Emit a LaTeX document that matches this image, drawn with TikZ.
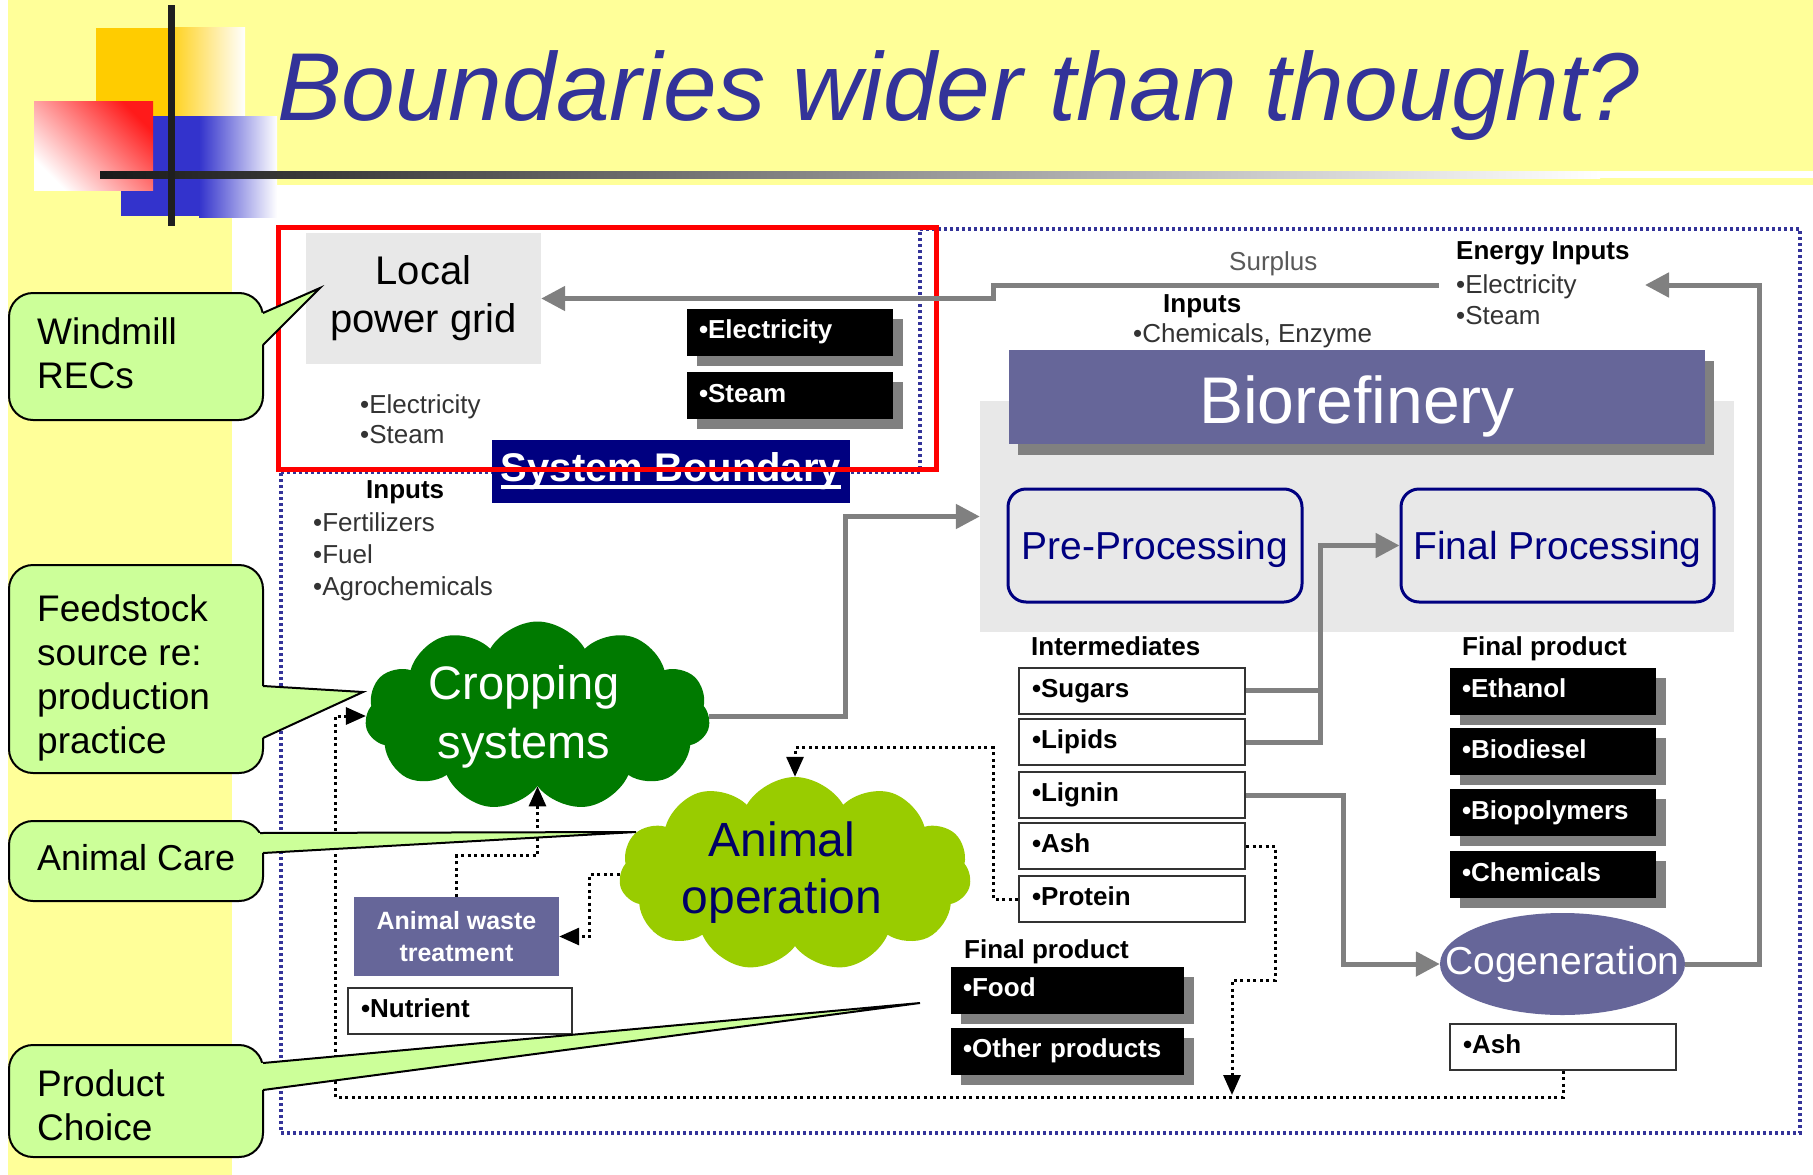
\documentclass[tikz,border=0pt]{standalone}
\usepackage{fontspec}
\setmainfont{Liberation Sans}
\usetikzlibrary{arrows.meta,shapes.symbols,shapes.geometric,shadows}

\definecolor{slideyellow}{HTML}{FFFF99}
\definecolor{titleblue}{HTML}{333399}
\definecolor{sqorange}{HTML}{FFCC00}
\definecolor{sqblue}{HTML}{3333CC}
\definecolor{sqred}{HTML}{FF1A1A}
\definecolor{flowgrey}{HTML}{808080}
\definecolor{panelgrey}{HTML}{E8E8E8}
\definecolor{refpurple}{HTML}{666699}
\definecolor{boxnavy}{HTML}{000080}
\definecolor{cropgreen}{HTML}{007A00}
\definecolor{animalgreen}{HTML}{99CC00}
\definecolor{calloutgreen}{HTML}{CCFF99}
\definecolor{textgrey}{HTML}{333333}

\newcommand{\ulthick}[1]{\leavevmode\setbox0=\hbox{#1}\rlap{\rule[-7pt]{\wd0}{3.5pt}}\copy0}

\tikzset{
  txt/.style={inner sep=0, text=textgrey, font=\fontsize{26}{31}\selectfont},
  boldtxt/.style={inner sep=0, font=\bfseries\fontsize{26}{31}\selectfont},
  blackbox/.style={fill=black, text=white, font=\bfseries\fontsize{26}{31}\selectfont,
    align=left, inner xsep=12, inner ysep=0, minimum height=47, text height=19, text depth=6,
    drop shadow={shadow xshift=10pt, shadow yshift=-10pt, fill=flowgrey, opacity=1}},
  whitebox/.style={draw=textgrey, line width=2, fill=white, font=\bfseries\fontsize{26}{31}\selectfont,
    align=left, inner xsep=13, inner ysep=0, minimum height=46, text height=19, text depth=6},
  procbox/.style={draw=boxnavy, line width=3, rounded corners=18, fill=panelgrey, text=boxnavy,
    font=\fontsize{39}{47}\selectfont, minimum height=113, text height=27.5, text depth=0},
  greyline/.style={draw=flowgrey, line width=5},
  greyarrow/.style={greyline, -{Triangle[length=24pt,width=24pt]}},
  dotline/.style={draw=black, line width=3, dash pattern=on 3pt off 3.5pt},
  dotarrow/.style={dotline, -{Triangle[length=20pt,width=17pt]}},
  boundary/.style={draw=titleblue, line width=3.5, dash pattern=on 3pt off 3pt},
  callout/.style={draw=black, line width=2, fill=calloutgreen},
  callouttxt/.style={inner sep=0, align=left, font=\fontsize{37}{44}\selectfont},
  puffs/.style={cloud, cloud puffs=11, cloud puff arc=120, inner sep=0},
}

\begin{document}
\begin{tikzpicture}[x=1pt, y=-1pt]
\useasboundingbox (0,0) rectangle (1813,1175);
% slide background
\fill[white] (0,0) rectangle (1813,1175);
\fill[slideyellow] (8,0) rectangle (1813,1175);
\fill[white] (232,185) rectangle (1813,1175);
% corner squares and rules
\fill[sqorange] (96,28) rectangle (175,116);
\shade[left color=sqorange!85!white, right color=white] (175,27) rectangle (245,116);
\fill[sqblue] (121,116) rectangle (199,216);
\shade[left color=sqblue, right color=white] (199,116) rectangle (277,217);
\shade[top color=sqred, bottom color=white, shading angle=-45] (34,101) rectangle (153,190);
\shade[left color=black!90, right color=white] (100,171) rectangle (1600,178);
\fill[white] (1600,171) rectangle (1813,178);
\fill[black!88] (168,5) rectangle (175,226);
\node[anchor=base west, inner sep=0, text=titleblue, font=\itshape\fontsize{96.5}{100}\selectfont] (title) at (277,120) {Boundaries wider than thought?};

% system boundary
\draw[boundary] (281,472) -- (920,472) -- (920,229) -- (1800,229) -- (1800,1133) -- (281,1133) -- cycle;

% local power grid
\node[fill=panelgrey, minimum width=235, minimum height=131, align=center, font=\fontsize{40}{48}\selectfont] (grid) at (423.5,298.5) {Local\\power grid};
\node[txt, anchor=base west, align=left, font=\fontsize{26}{30}\selectfont] (gridlist) at (360,443) {•Electricity\\•Steam};
\node[blackbox, text width=182] (gridelec) at (790,332) {•Electricity};
\node[blackbox, text width=182] (gridsteam) at (790,395.5) {•Steam};
\node[fill=boxnavy, text=white, minimum width=358, minimum height=63, inner sep=0, font=\bfseries\fontsize{40}{44}\selectfont] (sysbound) at (671,471.5) {\ulthick{System Boundary}};
\draw[red, line width=5] (278,227) rectangle (936,469);

% inputs
\node[boldtxt, anchor=base west] (cropinhead) at (366,498) {Inputs};
\node[txt, anchor=base west, align=left, font=\fontsize{26}{32}\selectfont] (cropinlist) at (313,595) {•Fertilizers\\•Fuel\\•Agrochemicals};
\node[txt, anchor=base west, text=black!65] (surplus) at (1229,270) {Surplus};
\node[boldtxt, anchor=base west] (refinhead) at (1163,312) {Inputs};
\node[txt, anchor=base west] (refinlist) at (1133,342) {•Chemicals, Enzyme};
\node[boldtxt, anchor=base west] (eninhead) at (1456,259) {Energy Inputs};
\node[txt, anchor=base west, align=left, font=\fontsize{26}{31}\selectfont] (eninlist) at (1456,324) {•Electricity\\•Steam};

% biorefinery
\node[fill=panelgrey, minimum width=754, minimum height=231, inner sep=0] (refpanel) at (1357,516.5) {};
\node[fill=refpurple, text=white, minimum width=696, minimum height=94, inner sep=0, text height=52, text depth=0,
  font=\fontsize{66}{70}\selectfont,
  drop shadow={shadow xshift=9pt, shadow yshift=-11pt, fill=flowgrey, opacity=1}] (biorefinery) at (1357,397) {Biorefinery};
\node[procbox, minimum width=294] (preproc) at (1155,545.5) {Pre-Processing};
\node[procbox, minimum width=313] (finproc) at (1557.5,545.5) {Final Processing};

% intermediates
\node[boldtxt, anchor=base west] (interhead) at (1031,655) {Intermediates};
\node[whitebox, text width=200] (sugars) at (1132,690.5) {•Sugars};
\node[whitebox, text width=200] (lipids) at (1132,742) {•Lipids};
\node[whitebox, text width=200] (lignin) at (1132,795) {•Lignin};
\node[whitebox, text width=200] (ash) at (1132,846) {•Ash};
\node[whitebox, text width=200] (protein) at (1132,899) {•Protein};

% final products
\node[boldtxt, anchor=base west] (finhead) at (1462,655) {Final product};
\node[blackbox, text width=182] (ethanol) at (1553,691) {•Ethanol};
\node[blackbox, text width=182] (biodiesel) at (1553,751.5) {•Biodiesel};
\node[blackbox, text width=182] (biopoly) at (1553,812.5) {•Biopolymers};
\node[blackbox, text width=182] (chemicals) at (1553,874.5) {•Chemicals};
\node[ellipse, fill=refpurple, minimum width=245, minimum height=102, inner sep=0] (cogen) at (1562.5,964) {};
\node[inner sep=0, text=white, font=\fontsize{39}{47}\selectfont] (cogentxt) at (cogen) {Cogeneration};
\node[whitebox, text width=200] (cogash) at (1563,1046.5) {•Ash};

% farm side
\node[puffs, fill=cropgreen, minimum width=345, minimum height=189] (crop) at (537.5,716) {};
\node[inner sep=0, align=center, text=white, font=\fontsize{47}{59}\selectfont] (croptxt) at (524,717) {Cropping\\systems};
\node[puffs, fill=animalgreen, minimum width=352, minimum height=194] (animal) at (795,874) {};
\node[inner sep=0, align=center, text=boxnavy!80!black, font=\fontsize{48}{57}\selectfont] (animaltxt) at (782,873) {Animal\\operation};
\node[fill=refpurple, text=white, minimum width=205, minimum height=79, inner sep=0, align=center, font=\bfseries\fontsize{25}{32}\selectfont] (waste) at (456.5,936.5) {Animal waste\\treatment};
\node[whitebox, text width=198] (nutrient) at (460,1010.5) {•Nutrient};
\node[boldtxt, anchor=base west] (foodhead) at (964,958) {Final product};
\node[blackbox, text width=209] (food) at (1067.5,990) {•Food};
\node[blackbox, text width=209] (other) at (1067.5,1051) {•Other products};

% grey flows
\coordinate (surplusstart) at (1439,285);
\coordinate (enintip) at (1645,285);
\coordinate (fpjoin) at ([xshift=-79]finproc.west);
\draw[greyarrow] (surplusstart) -- (993,285) |- (grid.east);
\draw[greyarrow] (cogen.east) -| (1759,285) -- (enintip);
\draw[greyarrow] (crop.east) -| ([xshift=-134]refpanel.west) -- (refpanel.west);
\draw[greyline] (sugars.east) -- (sugars.east -| fpjoin);
\draw[greyarrow] (lipids.east) -| (fpjoin) -- (finproc.west);
\draw[greyarrow] (lignin.east) -| ([xshift=-96]cogen.west) -- (cogen.west);

% dotted flows
\coordinate (ashdrop) at (1232,1095);
\coordinate (loopcorner) at (335,1097);
\draw[dotarrow] (protein.west) -- ++(-25,0) |- ([yshift=29]animal.north) -- (animal.north);
\draw[dotarrow] (animal.west) -- ++(-30,0) |- (waste.east);
\draw[dotarrow] (waste.north) -- ++(0,-41) -| (crop.south);
\draw[dotarrow] (ash.east) -- ++(29,0) -- ++(0,134) -| (ashdrop);
\draw[dotarrow] (cogash.south) |- (loopcorner) |- (crop.west);

% callouts
\draw[callout, rounded corners=24] (9,293) rectangle (263,420);
\fill[calloutgreen] (255,313) -- (262,313) -- (320,288) -- (262,345) -- (255,345) -- cycle;
\draw[line width=2] (263,313) -- (320,288) -- (263,345);
\node[callouttxt, anchor=base west] (windmill) at (37,388) {Windmill\\RECs};

\draw[callout, rounded corners=24] (9,565) rectangle (263,773);
\fill[calloutgreen] (255,686) -- (262,686) -- (363,692) -- (262,738) -- (255,738) -- cycle;
\draw[line width=2] (263,686) -- (363,692) -- (263,738);
\node[callouttxt, anchor=base west] (feedstock) at (37,753) {Feedstock\\source re:\\production\\practice};

\draw[callout, rounded corners=24] (9,821) rectangle (263,901);
\fill[calloutgreen] (252,833) -- (262,833) -- (636,832) -- (262,853) -- (252,853) -- cycle;
\draw[line width=2] (260,833) -- (636,832) -- (263,853);
\node[callouttxt, anchor=base west, font=\fontsize{36}{44}\selectfont] (animalcare) at (37,870) {Animal Care};

\draw[callout, rounded corners=24] (9,1045) rectangle (263,1157);
\fill[calloutgreen] (255,1063) -- (262,1063) -- (920,1003) -- (262,1090) -- (255,1090) -- cycle;
\draw[line width=2] (263,1063) -- (920,1003) -- (263,1090);
\node[callouttxt, anchor=base west] (product) at (37,1140) {Product\\Choice};
\end{tikzpicture}
\end{document}
